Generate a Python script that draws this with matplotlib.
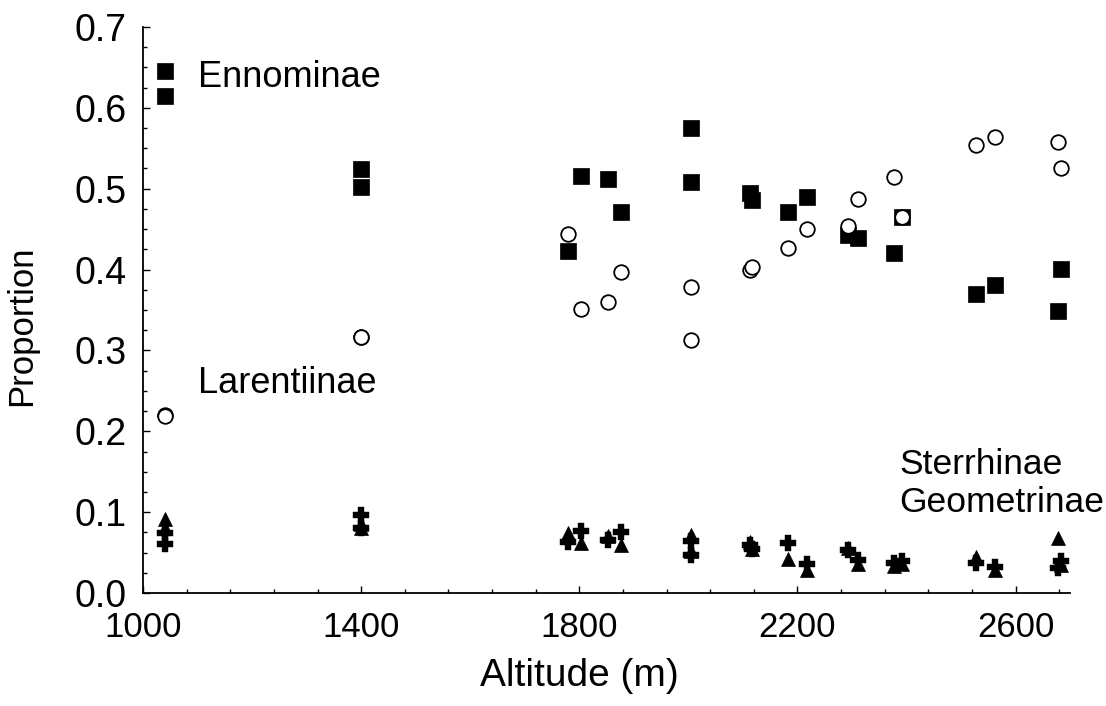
import numpy as np
import matplotlib
matplotlib.use('Agg')
import matplotlib.pyplot as plt
from matplotlib import rcParams
from matplotlib.ticker import MultipleLocator, FormatStrFormatter

rcParams['font.family'] = ['Liberation Sans', 'DejaVu Sans']
rcParams['font.size'] = 26

# Altitude of each site (m)
altitude = [1040, 1040, 1400, 1400, 1780, 1804, 1853, 1877, 2005, 2005,
            2114, 2117, 2183, 2217, 2292, 2312, 2378, 2391, 2528, 2563,
            2677, 2683]

# Proportion of each subfamily per site
ennominae = [0.645, 0.615, 0.524, 0.502, 0.423, 0.516, 0.512, 0.471, 0.575, 0.508,
             0.495, 0.486, 0.471, 0.490, 0.443, 0.439, 0.420, 0.465, 0.370, 0.381,
             0.349, 0.401]
larentiinae = [0.220, 0.219, 0.317, 0.316, 0.444, 0.351, 0.360, 0.397, 0.313, 0.379,
               0.399, 0.403, 0.427, 0.450, 0.454, 0.487, 0.514, 0.465, 0.554, 0.564,
               0.558, 0.525]
sterrhinae = [0.091, 0.080, 0.085, 0.080, 0.074, 0.062, 0.070, 0.060, 0.072, 0.052,
              0.063, 0.055, 0.042, 0.029, 0.056, 0.036, 0.034, 0.036, 0.045, 0.029,
              0.068, 0.035]
geometrinae = [0.074, 0.061, 0.096, 0.081, 0.063, 0.077, 0.065, 0.076, 0.064, 0.047,
               0.060, 0.054, 0.062, 0.036, 0.053, 0.041, 0.037, 0.040, 0.037, 0.032,
               0.031, 0.040]

fig = plt.figure(figsize=(11.06, 7.06), dpi=100)
ax = fig.add_axes([0.1293, 0.16, 0.9675 - 0.1293, 0.9618 - 0.16])

ax.plot(altitude, ennominae, 's', color='black', markersize=11, markeredgewidth=0.5, linestyle='none')
ax.plot(altitude, larentiinae, 'o', markerfacecolor='white', markeredgecolor='black',
        markersize=10.5, markeredgewidth=1.3, linestyle='none')
ax.plot(altitude, sterrhinae, '^', color='black', markersize=10.5, markeredgewidth=0.5, linestyle='none')
ax.plot(altitude, geometrinae, 'P', color='black', markersize=11.5, markeredgewidth=0.3, linestyle='none')

ax.text(1100, 0.638, 'Ennominae', ha='left', va='center')
ax.text(1100, 0.259, 'Larentiinae', ha='left', va='center')
ax.text(2387, 0.159, 'Sterrhinae', ha='left', va='center', fontsize=25.5)
ax.text(2387, 0.112, 'Geometrinae', ha='left', va='center', fontsize=25.5)

ax.set_xlim(1000, 2700)
ax.set_ylim(0, 0.7)
ax.set_xticks(np.arange(1000, 2601, 400))
ax.set_xticks(np.arange(1000, 2700, 80), minor=True)
ax.yaxis.set_major_locator(MultipleLocator(0.1))
ax.yaxis.set_minor_locator(MultipleLocator(0.025))
ax.yaxis.set_major_formatter(FormatStrFormatter('%.1f'))

ax.spines['top'].set_visible(False)
ax.spines['right'].set_visible(False)
ax.spines['left'].set_linewidth(1.3)
ax.spines['bottom'].set_linewidth(1.3)
ax.tick_params(which='major', direction='in', length=5, width=1)
ax.tick_params(axis='y', which='major', pad=12, labelsize=27)
ax.tick_params(axis='x', which='major', pad=13, labelsize=25)
ax.tick_params(which='minor', direction='in', length=3, width=1)

ax.set_xlabel('Altitude (m)', fontsize=28)
ax.set_ylabel('Proportion', fontsize=25)
ax.xaxis.set_label_coords(0.471, -0.115)
ax.yaxis.set_label_coords(-0.113, 0.472)

fig.savefig('out.png', dpi=100)
